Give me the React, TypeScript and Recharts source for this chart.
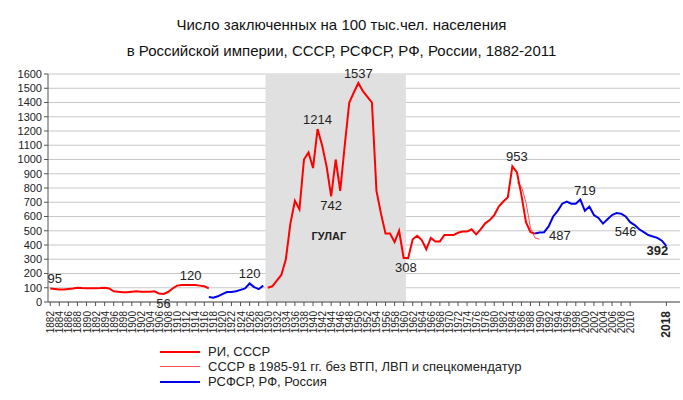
import React from 'react';
import {
  LineChart,
  Line,
  XAxis,
  YAxis,
  CartesianGrid,
  ReferenceArea,
  ReferenceDot,
} from 'recharts';

// РИ, СССР
const ruEarlyStart = 1882;
const ruEarly = [95, 92, 88, 88, 92, 95, 100, 98, 97, 97, 97, 98, 100, 95, 75, 72, 68, 68, 72, 75, 72, 72, 72, 75, 60, 56, 70, 95, 115, 120, 120, 120, 120, 115, 110, 95];
const ruLateStart = 1930;
const ruLate = [100, 110, 150, 190, 300, 550, 710, 650, 1000, 1050, 940, 1214, 1100, 950, 742, 1000, 780, 1100, 1400, 1470, 1537, 1480, 1440, 1400, 780, 620, 480, 480, 420, 500, 308, 308, 440, 465, 435, 370, 450, 425, 425, 470, 470, 470, 486, 494, 494, 510, 475, 510, 552, 575, 610, 670, 705, 735, 953, 910, 750, 560, 490, 480];
// СССР в 1985-91 гг. без ВТП, ЛВП и спецкомендатур
const thinStart = 1985;
const thin = [840, 810, 700, 520, 450, 440];
// РСФСР, РФ, Россия
const rfEarlyStart = 1917;
const rfEarly = [35, 30, 40, 55, 70, 70, 75, 85, 95, 130, 105, 90, 115];
const rfLateStart = 1989;
const rfLate = [480, 487, 490, 530, 600, 640, 690, 705, 690, 690, 719, 640, 670, 610, 590, 550, 580, 610, 625, 620, 600, 560, 540, 510, 490, 470, 460, 450, 430, 392];

const yTicks = [0, 100, 200, 300, 400, 500, 600, 700, 800, 900, 1000, 1100, 1200, 1300, 1400, 1500, 1600];
const xTicks: number[] = [];
for (let y = 1882; y <= 2010; y += 2) xTicks.push(y);
xTicks.push(2018);

const data: any[] = [];
for (let y = 1882; y <= 2018; y++) {
  const pick = (arr: number[], start: number) => (y >= start && y < start + arr.length ? arr[y - start] : null);
  data.push({
    year: y,
    ru: pick(ruEarly, ruEarlyStart) ?? pick(ruLate, ruLateStart),
    thin: pick(thin, thinStart),
    rf: pick(rfEarly, rfEarlyStart) ?? pick(rfLate, rfLateStart),
  });
}

const XTick = (props: any) => {
  const { x, y, payload } = props;
  const bold = payload.value === 2018;
  return (
    <text
      x={x + 4}
      y={y + 3}
      transform={`rotate(-90 ${x + 4} ${y + 3})`}
      textAnchor="end"
      fontSize={bold ? 12 : 10}
      fontWeight={bold ? 'bold' : 'normal'}
      fill="#222"
    >
      {payload.value}
    </text>
  );
};

const lbl = (value: string, position: any, extra: any = {}) => ({
  value,
  position,
  fontSize: 13,
  fill: '#222',
  fontFamily: 'Arial, Liberation Sans, sans-serif',
  ...extra,
});

const App = () => {
  return (
    <div style={{ position: 'absolute', left: 0, top: 0, width: 683, height: 400, background: '#fff', fontFamily: 'Arial, Liberation Sans, sans-serif' }}>
      <div style={{ position: 'absolute', top: 12, left: 0, width: 683, textAlign: 'center', fontSize: 15, lineHeight: '26px', color: '#111' }}>
        Число заключенных на 100 тыс.чел. населения
        <br />
        в Российской империи, СССР, РСФСР, РФ, России, 1882-2011
      </div>
      <div style={{ position: 'absolute', top: 0, left: 0 }}>
        <LineChart width={683} height={347} data={data} margin={{ top: 74, right: 3, left: 0, bottom: 0 }}>
          <CartesianGrid vertical={false} stroke="#c8c8c8" />
          <ReferenceArea x1={1929.5} x2={1960.5} y1={0} y2={1600} fill="#e0e0e0" fillOpacity={1} stroke="none" />
          <XAxis
            dataKey="year"
            type="number"
            domain={[1881.5, 2021]}
            ticks={xTicks}
            interval={0}
            tick={<XTick />}
            height={45}
            stroke="#555"
            tickSize={4}
          />
          <YAxis
            domain={[0, 1600]}
            ticks={yTicks}
            interval={0}
            width={48}
            stroke="#555"
            tickSize={4}
            tick={{ fontSize: 11, fill: '#222' }}
          />
          <Line dataKey="thin" stroke="#ff5050" strokeWidth={1} dot={false} isAnimationActive={false} />
          <Line dataKey="ru" stroke="#ff0000" strokeWidth={2} dot={false} isAnimationActive={false} />
          <Line dataKey="rf" stroke="#0000ee" strokeWidth={2} dot={false} isAnimationActive={false} />
          <ReferenceDot x={1883} y={95} r={0} label={lbl('95', 'top')} />
          <ReferenceDot x={1907} y={56} r={0} label={lbl('56', 'bottom')} />
          <ReferenceDot x={1913} y={120} r={0} label={lbl('120', 'top')} />
          <ReferenceDot x={1926} y={130} r={0} label={lbl('120', 'top')} />
          <ReferenceDot x={1941} y={1214} r={0} label={lbl('1214', 'top')} />
          <ReferenceDot x={1944} y={742} r={0} label={lbl('742', 'bottom')} />
          <ReferenceDot x={1950} y={1537} r={0} label={lbl('1537', 'top')} />
          <ReferenceDot x={1960.5} y={308} r={0} label={lbl('308', 'bottom')} />
          <ReferenceDot x={1985} y={953} r={0} label={lbl('953', 'top')} />
          <ReferenceDot x={1991} y={470} r={0} label={lbl('487', 'right')} />
          <ReferenceDot x={2000} y={719} r={0} label={lbl('719', 'top')} />
          <ReferenceDot x={2009} y={560} r={0} label={lbl('546', 'bottom')} />
          <ReferenceDot x={2016} y={430} r={0} label={lbl('392', 'bottom', { fontWeight: 'bold' })} />
          <ReferenceDot x={1943.5} y={460} r={0} label={lbl('ГУЛАГ', 'center', { fontWeight: 'bold', fontSize: 11 })} />
        </LineChart>
      </div>
      <div style={{ position: 'absolute', left: 160, top: 344, fontSize: 13, color: '#222', lineHeight: '15px' }}>
        {[
          ['РИ, СССР', '#ff0000', 2],
          ['СССР в 1985-91 гг. без ВТП, ЛВП и спецкомендатур', '#ff5050', 1],
          ['РСФСР, РФ, Россия', '#0000ee', 2],
        ].map(([t, c, w]) => (
          <div key={t as string} style={{ display: 'flex', alignItems: 'center' }}>
            <span style={{ display: 'inline-block', width: 40, height: 0, borderTop: `${w}px solid ${c}`, marginRight: 8 }} />
            {t}
          </div>
        ))}
      </div>
    </div>
  );
};

export default App;
